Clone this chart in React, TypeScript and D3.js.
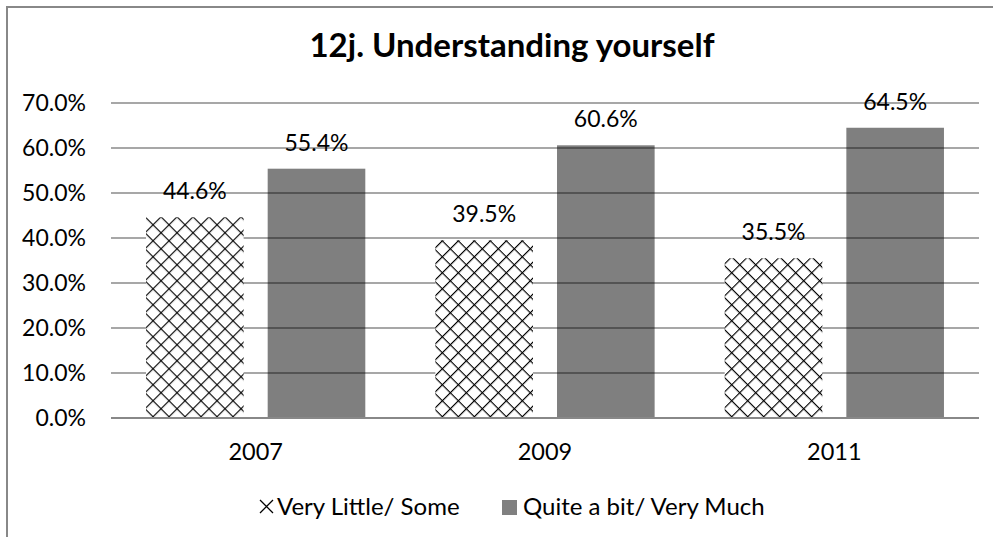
import React from "react";
import * as d3 from "d3";

const title = "12j. Understanding yourself";
const years = ["2007", "2009", "2011"];
const seriesNames = ["Very Little/ Some", "Quite a bit/ Very Much"];
const veryLittle = [0.446, 0.395, 0.355];
const quiteABit = [0.554, 0.606, 0.645];
const yTicks = [0, 0.1, 0.2, 0.3, 0.4, 0.5, 0.6, 0.7];

const W = 993;
const H = 537;
const FONT = "Lato, 'Open Sans', sans-serif";

export default function App() {
  const y = d3.scaleLinear().domain([0, 0.7]).range([418, 103]);
  const x0 = d3.scaleBand<string>().domain(years).range([111, 979]).padding(0);
  const x1 = d3
    .scaleBand<string>()
    .domain(seriesNames)
    .range([0, x0.bandwidth()])
    .paddingInner(0.1975)
    .paddingOuter(0.288);
  const fmt = d3.format(".1%");
  const series = [veryLittle, quiteABit];
  const [xl, xr] = x0.range();

  return (
    <svg
      width={W}
      height={H}
      style={{ position: "absolute", left: 0, top: 0, background: "#fff" }}
      fontFamily={FONT}
    >
      <defs>
        <pattern
          id="cross"
          patternUnits="userSpaceOnUse"
          width={11.31}
          height={11.31}
          patternTransform="translate(146,216) rotate(45)"
        >
          <rect width={11.31} height={11.31} fill="#fff" />
          <rect x={0} y={0} width={11.31} height={1.15} fill="#000" />
          <rect x={0} y={0} width={1.15} height={11.31} fill="#000" />
        </pattern>
      </defs>
      <rect x={0} y={0} width={W} height={H} fill="#fff" />
      <rect x={7} y={7} width={1010} height={560} fill="none" stroke="#888" strokeWidth={2} />

      <text x={512} y={57} textAnchor="middle" fontSize={33} fontWeight="bold" fill="#000">
        {title}
      </text>

      {yTicks.map((t) => (
        <g key={t}>
          <line x1={xl} x2={xr} y1={y(t)} y2={y(t)} stroke="#8a8a8a" strokeWidth={1.6} />
          <text x={86} y={y(t)} dy="0.36em" textAnchor="end" fontSize={23} fill="#000">
            {fmt(t)}
          </text>
        </g>
      ))}

      {years.map((yr, i) => (
        <g key={yr} transform={`translate(${x0(yr)},0)`}>
          <rect
            x={x1(seriesNames[0])}
            y={y(series[0][i])}
            width={x1.bandwidth()}
            height={y(0) - y(series[0][i])}
            fill="url(#cross)"
          />
          <rect
            x={x1(seriesNames[1])}
            y={y(series[1][i])}
            width={x1.bandwidth()}
            height={y(0) - y(series[1][i])}
            fill="#000"
            fillOpacity={0.5}
          />
          {seriesNames.map((s, j) => (
            <text
              key={s}
              x={(x1(s) as number) + x1.bandwidth() / 2}
              y={y(series[j][i]) - 18}
              textAnchor="middle"
              fontSize={23}
              fill="#000"
            >
              {fmt(series[j][i])}
            </text>
          ))}
          <text x={x0.bandwidth() / 2} y={460} textAnchor="middle" fontSize={23.5} fill="#000">
            {yr}
          </text>
        </g>
      ))}

      <line x1={xl} x2={xr} y1={y(0)} y2={y(0)} stroke="#888" strokeWidth={2} />

      <g>
        <path d="M260,500L273,513M273,500L260,513" stroke="#000" strokeWidth={1.3} fill="none" />
        <text x={277} y={515} fontSize={24} fill="#000">
          {seriesNames[0]}
        </text>
        <rect x={502} y={500} width={15} height={15} fill="#808080" />
        <text x={523} y={515} fontSize={24} fill="#000">
          {seriesNames[1]}
        </text>
      </g>
    </svg>
  );
}
